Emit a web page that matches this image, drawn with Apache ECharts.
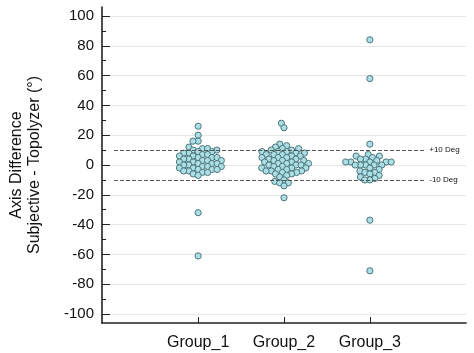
<!DOCTYPE html>
<html><head><meta charset="utf-8">
<script src="https://cdn.jsdelivr.net/npm/echarts@6/dist/echarts.min.js"></script>
<style>html,body{margin:0;padding:0;background:#fff}#c{width:474px;height:353px}</style>
</head><body><div id="c"></div>
<script>
const groups = ['Group_1', 'Group_2', 'Group_3'];
const group1 = [26, 20, 16, 16,
  12, 11, 11, 10, 10, 9, 9, 8, 8, 7, 7, 6, 6, 5, 5, 5, 4, 4, 3, 3, 3, 2, 2, 1, 1, 1,
  0, 0, -1, -1, -1, -2, -2, -3, -3, -3, -4, -4, -5, -5, -6, -7,
  -32, -61];
const group2 = [28, 25,
  14, 13, 12, 11, 11, 10, 10, 9, 9, 9, 8, 8, 7, 7, 7, 6, 6, 5, 5, 5, 4, 4,
  3, 3, 3, 2, 2, 1, 1, 1, 0, 0, 0, -1, -1, -2, -2, -2, -3, -3, -4, -4, -4,
  -5, -5, -6, -6, -7, -8,
  -10, -11, -12, -12, -14, -22];
const group3 = [84, 58, 14, 7, 6, 6, 5, 4, 4, 3, 2, 2, 2, 2, 2, 0, 0, 0, 0, 0,
  -2, -3, -4, -5, -5, -6, -7, -8, -9, -10, -10, -37, -71];
const yTicks = [-100, -80, -60, -40, -20, 0, 20, 40, 60, 80, 100];
const yMinorTicks = [-90, -70, -50, -30, -10, 10, 30, 50, 70, 90];
const refLines = [10, -10];
const refLabels = ['+10 Deg', '-10 Deg'];

const font = '"Liberation Sans", Arial, sans-serif';
const chart = echarts.init(document.getElementById('c'), null, {renderer: 'canvas'});

const baseOption = {
  animation: false,
  textStyle: {fontFamily: font},
  grid: {left: 99, right: 8, top: 7, bottom: 30},
  xAxis: {
    type: 'value', min: -0.12, max: 4.12,
    axisLine: {onZero: false, lineStyle: {color: '#222', width: 1.6}},
    axisTick: {customValues: [1, 2, 3], inside: true, length: 6, lineStyle: {color: '#222', width: 1}},
    axisLabel: {customValues: [1, 2, 3], formatter: v => groups[Math.round(v) - 1], fontSize: 16, color: '#111', margin: 12, fontFamily: font},
    splitLine: {show: false}
  },
  yAxis: [{
    type: 'value', min: -106, max: 106, position: 'left',
    name: 'Axis Difference\nSubjective - Topolyzer (°)',
    nameLocation: 'middle', nameRotate: 90, nameGap: 58,
    nameTextStyle: {fontSize: 16, color: '#111', lineHeight: 18, fontFamily: font},
    axisLine: {show: true, onZero: false, lineStyle: {color: '#222', width: 1.6}},
    axisTick: {customValues: yTicks, inside: true, length: 8, lineStyle: {color: '#222', width: 1}},
    axisLabel: {customValues: yTicks, fontSize: 15, color: '#111', margin: 8, fontFamily: font},
    splitLine: {show: true, lineStyle: {color: '#e6e6e6', width: 1}}
  }, {
    type: 'value', min: -106, max: 106, position: 'left',
    axisLine: {show: false, onZero: false},
    axisTick: {customValues: yMinorTicks, inside: true, length: 4, lineStyle: {color: '#222', width: 1}},
    axisLabel: {show: false},
    splitLine: {show: false}
  }],
  series: []
};
chart.setOption(baseOption);

function swarm(values, d) {
  const pts = values.map(v => ({v: v, y: chart.convertToPixel({gridIndex: 0}, [0, v])[1], x: 0}));
  const order = pts.slice().sort((a, b) => a.v - b.v);
  const placed = [];
  for (const p of order) {
    const cands = [0];
    for (const q of placed) {
      const dy = Math.abs(q.y - p.y);
      if (dy < d) {
        const dx = Math.sqrt(d * d - dy * dy);
        cands.push(q.x + dx, q.x - dx);
      }
    }
    cands.sort((a, b) => Math.abs(a) - Math.abs(b) || a - b);
    for (const c of cands) {
      let ok = true;
      for (const q of placed) {
        if ((q.x - c) * (q.x - c) + (q.y - p.y) * (q.y - p.y) < d * d - 1e-6) { ok = false; break; }
      }
      if (ok) { p.x = c; break; }
    }
    placed.push(p);
  }
  return pts;
}

const ppx = chart.convertToPixel({gridIndex: 0}, [1, 0])[0] - chart.convertToPixel({gridIndex: 0}, [0, 0])[0];
const allGroups = [group1, group2, group3];
const D = 5.2;
const series = allGroups.map((vals, gi) => ({
  type: 'scatter',
  symbol: 'circle',
  symbolSize: 6.2,
  itemStyle: {color: '#abdfe6', borderColor: '#4d7479', borderWidth: 1, opacity: 1},
  data: swarm(vals, D).map(p => [gi + 1 + p.x / ppx, p.v]),
  z: 3
}));

series[0].markLine = {
  silent: true, symbol: 'none', animation: false,
  lineStyle: {type: [4, 2], color: '#555', width: 1},
  label: {position: 'end', fontSize: 8, color: '#111', distance: 4, fontFamily: font},
  data: refLines.map((v, i) => [
    {coord: [0.02, v]},
    {coord: [3.645, v], label: {formatter: refLabels[i]}}
  ])
};

chart.setOption({series: series});
</script></body></html>
